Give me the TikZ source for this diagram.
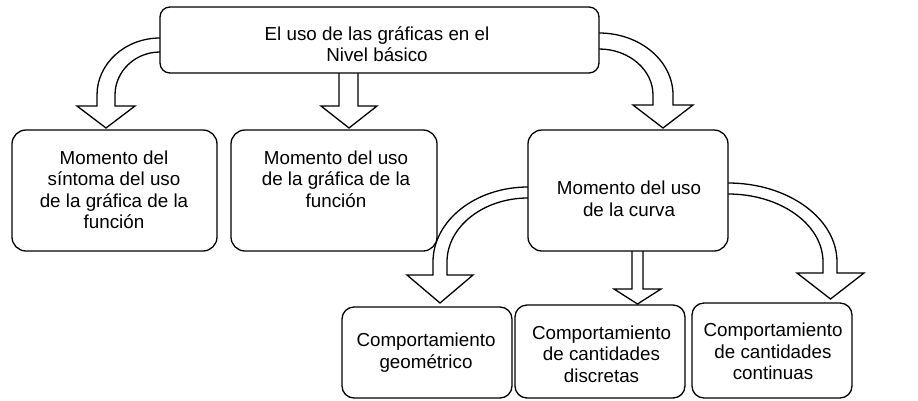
\documentclass[tikz,border=0pt]{standalone}
\usepackage{fontspec}
\setmainfont{Liberation Sans}
\begin{document}
\begin{tikzpicture}[x=1pt,y=-1pt,
  box/.style={draw=black, fill=white, line width=1.3pt, rounded corners=#1, inner sep=0pt, anchor=center},
  box/.default=14pt,
  txt/.style={align=center, inner sep=0pt, font=\fontsize{18.8}{21.5}\selectfont},
  blockarrow/.style={draw=black, fill=white, line width=1.3pt, line join=miter}]
\useasboundingbox (0,0) rectangle (918,400);
% arrows from top box
\draw[blockarrow] (166,38) -- (160,38) .. controls (125.2,38) and (97,63.5) .. (97,95) -- (97,106) -- (77,106) -- (106,128) -- (135,106) -- (115,106) -- (115,95) .. controls (115,71.3) and (135.1,52) .. (160,52) -- (166,52) -- cycle;
\draw[blockarrow] (339,68) -- (339,106) -- (321,106) -- (349,128) -- (377,106) -- (358,106) -- (358,68) -- cycle;
\draw[blockarrow] (593,33) -- (599,33) .. controls (639.9,33) and (673,60.8) .. (673,95) -- (673,105) -- (693,105) -- (663,128) -- (633,105) -- (653,105) -- (653,95) .. controls (653,69.6) and (628.8,49) .. (599,49) -- (593,49) -- cycle;
% arrows from curve box
\draw[blockarrow] (534,187) -- (528,187) .. controls (475.5,187) and (433,220.6) .. (433,262) -- (433,275) -- (407,275) -- (440,303) -- (473,275) -- (447,275) -- (447,262) .. controls (447,226.7) and (483.3,198) .. (528,198) -- (534,198) -- cycle;
\draw[blockarrow] (632,246) -- (632,289) -- (614,289) -- (637.5,304) -- (661,289) -- (643,289) -- (643,246) -- cycle;
\draw[blockarrow] (722,183) -- (728,183) .. controls (788.2,183) and (837,218.4) .. (837,262) -- (837,273) -- (864,273) -- (830.5,299) -- (797,273) -- (823,273) -- (823,262) .. controls (823,224.4) and (780.5,194) .. (728,194) -- (722,194) -- cycle;
% boxes
\node[box=10pt, minimum width=439pt, minimum height=66pt] (top) at (379.5,40) {};
\node[box, minimum width=205pt, minimum height=121pt] (b1) at (114.5,190.5) {};
\node[box, minimum width=206pt, minimum height=121pt] (b2) at (334,190.5) {};
\node[box, minimum width=200pt, minimum height=121pt] (b3) at (628,190.5) {};
\node[box=12pt, minimum width=170pt, minimum height=91pt] (c1) at (427,352.5) {};
\node[box=12pt, minimum width=170pt, minimum height=93pt] (c2) at (600,351.5) {};
\node[box=12pt, minimum width=160pt, minimum height=95pt] (c3) at (772,350.5) {};
% texts
\node[txt] (ttop) at (377,44) {El uso de las gráficas en el\\Nivel básico};
\node[txt] (tb1) at (114,190) {Momento del\\síntoma del uso\\de la gráfica de la\\función};
\node[txt] (tb2) at (336,179) {Momento del uso\\de la gráfica de la\\función};
\node[txt] (tb3) at (629,199) {Momento del uso\\de la curva};
\node[txt] (tc1) at (426,352.5) {Comportamiento\\geométrico};
\node[txt] (tc2) at (601.5,354) {Comportamiento\\de cantidades\\discretas};
\node[txt] (tc3) at (773,351.5) {Comportamiento\\de cantidades\\continuas};
\end{tikzpicture}
\end{document}
